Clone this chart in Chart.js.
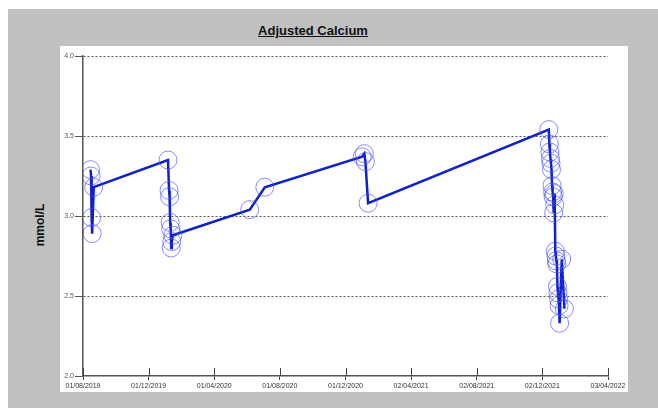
<!DOCTYPE html>
<html>
<head>
<meta charset="utf-8">
<script src="https://cdn.jsdelivr.net/npm/chart.js@4/dist/chart.umd.min.js"></script>
<style>
    body { margin: 0; background: #fff; width: 658px; height: 408px; overflow: hidden; font-family: "Liberation Sans", Arial, sans-serif; }
    #frame { position: absolute; left: 8px; top: 9px; width: 650px; height: 399px; background: #c0c0c0; }
    #title { position: absolute; left: 0; top: 14px; width: 610px; text-align: center; font-weight: bold; font-size: 13px; text-decoration: underline; color: #111; }
    #ylabel { position: absolute; left: 32px; top: 216px; transform: translate(-50%, -50%) rotate(-90deg); font-weight: bold; font-size: 12px; color: #111; white-space: nowrap; }
    #panel { position: absolute; left: 52px; top: 37px; width: 568px; height: 346px; background: #fff; }
</style>
</head>
<body>
<div id="frame">
    <div id="title">Adjusted Calcium</div>
    <div id="ylabel">mmol/L</div>
    <div id="panel"><canvas id="chart"></canvas></div>
</div>
<script>
// 注专 转专
const baseDate = '2019-08-01';
const sampleDates = [
    '2019-08-15', '2019-08-16', '2019-08-17', '2019-08-18', '2019-08-21',
    '2020-01-06', '2020-01-08', '2020-01-09', '2020-01-10', '2020-01-11', '2020-01-12', '2020-01-13', '2020-01-15',
    '2020-06-06', '2020-07-04',
    '2021-01-01', '2021-01-05', '2021-01-07', '2021-01-12',
    '2021-12-14', '2021-12-15', '2021-12-16', '2021-12-17', '2021-12-18', '2021-12-19', '2021-12-20',
    '2021-12-21', '2021-12-22', '2021-12-23', '2021-12-24', '2021-12-25', '2021-12-26', '2021-12-27',
    '2021-12-28', '2021-12-29', '2021-12-30', '2021-12-31', '2022-01-01', '2022-01-02', '2022-01-03',
    '2022-01-07', '2022-01-12'
];
const calciumValues = [
    3.29, 3.25, 2.99, 2.89, 3.18,
    3.35, 3.16, 3.12, 2.96, 2.92, 2.80, 2.84, 2.88,
    3.04, 3.18,
    3.37, 3.39, 3.34, 3.08,
    3.54, 3.45, 3.40, 3.36, 3.33, 3.29, 3.19,
    3.15, 3.12, 3.02, 3.14, 3.07, 2.78, 2.75,
    2.72, 2.70, 2.56, 2.52, 2.48, 2.44, 2.33,
    2.73, 2.42
];
const yTicks = [2.0, 2.5, 3.0, 3.5, 4.0];
const xTickStepDays = 122;
const xTickCount = 8;

const DAY_MS = 86400000;
const baseMs = Date.parse(baseDate + 'T00:00:00Z');

function toDays(dateStr) {
    return Math.round((Date.parse(dateStr + 'T00:00:00Z') - baseMs) / DAY_MS);
}

function formatDay(days) {
    const d = new Date(baseMs + days * DAY_MS);
    const dd = String(d.getUTCDate()).padStart(2, '0');
    const mm = String(d.getUTCMonth() + 1).padStart(2, '0');
    return `${dd}/${mm}/${d.getUTCFullYear()}`;
}

const points = sampleDates.map((date, i) => ({ x: toDays(date), y: calciumValues[i] }));

// 住 砖 爪专 X 砖爪 注 爪专
const crossTicks = {
    id: 'crossTicks',
    afterDraw(chart) {
        const xScale = chart.scales.x;
        const ctx = chart.ctx;
        const y = chart.chartArea.bottom;
        ctx.save();
        ctx.strokeStyle = '#444';
        ctx.lineWidth = 1;
        xScale.ticks.forEach(t => {
            const px = Math.round(xScale.getPixelForValue(t.value)) + 0.5;
            ctx.beginPath();
            ctx.moveTo(px, y - 8);
            ctx.lineTo(px, y);
            ctx.stroke();
        });
        ctx.restore();
    }
};

new Chart(document.getElementById('chart'), {
    type: 'line',
    data: {
        datasets: [{
            data: points,
            borderColor: '#1020cc',
            borderWidth: 2.5,
            tension: 0,
            pointRadius: 9,
            pointHoverRadius: 9,
            pointBorderWidth: 1,
            pointBorderColor: 'rgba(70, 80, 245, 0.65)',
            pointBackgroundColor: 'rgba(0, 0, 0, 0)'
        }]
    },
    options: {
        responsive: true,
        maintainAspectRatio: false,
        animation: false,
        layout: { padding: { top: 4, right: 20, left: 0, bottom: 0 } },
        plugins: {
            legend: { display: false },
            tooltip: { enabled: false }
        },
        scales: {
            x: {
                type: 'linear',
                min: 0,
                max: xTickStepDays * xTickCount,
                afterBuildTicks: (scale) => {
                    scale.ticks = Array.from({ length: xTickCount + 1 }, (_, i) => ({ value: i * xTickStepDays }));
                },
                afterFit: (scale) => { scale.height = 16; },
                grid: { drawOnChartArea: false, tickLength: 4, color: '#444' },
                border: { color: '#555', width: 1.5 },
                ticks: {
                    autoSkip: false,
                    maxRotation: 0,
                    padding: 2,
                    color: '#333',
                    font: { size: 7, family: 'Liberation Sans' },
                    callback: (value) => formatDay(value)
                }
            },
            y: {
                min: yTicks[0],
                max: yTicks[yTicks.length - 1],
                afterBuildTicks: (scale) => {
                    scale.ticks = yTicks.map(v => ({ value: v }));
                },
                afterFit: (scale) => { scale.width = 23; },
                grid: {
                    color: (ctx) => ctx.tick && ctx.tick.value === yTicks[0] ? 'rgba(0,0,0,0)' : '#555',
                    lineWidth: 1,
                    tickLength: 8,
                    tickBorderDash: [],
                    tickColor: '#555'
                },
                border: { color: '#555', width: 1.5, dash: [2, 2] },
                ticks: {
                    padding: 1,
                    color: '#555',
                    font: { size: 7, family: 'Liberation Sans' },
                    callback: (value) => Number(value).toFixed(1)
                }
            }
        }
    },
    plugins: [crossTicks]
});
</script>
</body>
</html>
